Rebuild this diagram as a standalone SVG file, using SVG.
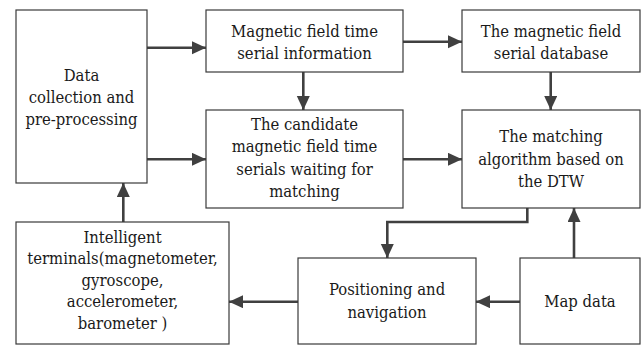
<svg xmlns="http://www.w3.org/2000/svg" width="644" height="345" viewBox="0 0 644 345">
<style>
.box{fill:#fff;stroke:#3a3a3a;stroke-width:1.2}
.c{fill:none;stroke:#404040;stroke-width:2.6}
.t{font-family:"DejaVu Serif Condensed","DejaVu Serif","Liberation Serif",serif;font-stretch:condensed;font-size:16.5px;fill:#1a1a1a;text-anchor:middle}
</style>
<defs>
<marker id="ah" markerUnits="userSpaceOnUse" markerWidth="16" markerHeight="14" refX="14" refY="6.5" orient="auto">
<path d="M0,0 L14,6.5 L0,13 Z" fill="#404040"/>
</marker>
</defs>
<rect width="644" height="345" fill="#fff"/>
<g id="connectors">
<line class="c" x1="147" y1="47.7" x2="206" y2="47.7" marker-end="url(#ah)"/>
<line class="c" x1="147" y1="159.3" x2="206" y2="159.3" marker-end="url(#ah)"/>
<line class="c" x1="303.3" y1="72" x2="303.3" y2="110" marker-end="url(#ah)"/>
<line class="c" x1="403" y1="41.7" x2="462" y2="41.7" marker-end="url(#ah)"/>
<line class="c" x1="550.7" y1="72" x2="550.7" y2="110" marker-end="url(#ah)"/>
<line class="c" x1="403" y1="159.3" x2="462" y2="159.3" marker-end="url(#ah)"/>
<polyline class="c" points="527.3,208 527.3,222 387.3,222 387.3,258" marker-end="url(#ah)"/>
<line class="c" x1="574" y1="258" x2="574" y2="208" marker-end="url(#ah)"/>
<line class="c" x1="520" y1="301.7" x2="476" y2="301.7" marker-end="url(#ah)"/>
<line class="c" x1="298" y1="301.7" x2="229" y2="301.7" marker-end="url(#ah)"/>
<line class="c" x1="123.3" y1="222" x2="123.3" y2="183" marker-end="url(#ah)"/>
</g>
<g id="data-collection">
<rect class="box" x="16" y="10" width="131" height="173"/>
<text class="t" x="81.5" y="80.5">Data</text>
<text class="t" x="81.5" y="102.5">collection and</text>
<text class="t" x="81.5" y="124.5">pre-processing</text>
</g>
<g id="time-serial-info">
<rect class="box" x="206" y="10" width="197" height="62"/>
<text class="t" x="304.5" y="37">Magnetic field time</text>
<text class="t" x="304.5" y="59">serial information</text>
</g>
<g id="serial-database">
<rect class="box" x="462" y="10" width="178" height="62"/>
<text class="t" x="551" y="37">The magnetic field</text>
<text class="t" x="551" y="59">serial database</text>
</g>
<g id="candidate">
<rect class="box" x="206" y="110" width="197" height="98"/>
<text class="t" x="304.5" y="130">The candidate</text>
<text class="t" x="304.5" y="152">magnetic field time</text>
<text class="t" x="304.5" y="174.5">serials waiting for</text>
<text class="t" x="304.5" y="196.5">matching</text>
</g>
<g id="matching-dtw">
<rect class="box" x="462" y="110" width="178" height="98"/>
<text class="t" x="551" y="142">The matching</text>
<text class="t" x="551" y="164.5">algorithm based on</text>
<text class="t" x="551" y="187">the DTW</text>
</g>
<g id="intelligent-terminals">
<rect class="box" x="16" y="222" width="213" height="122"/>
<text class="t" x="122.5" y="242.5">Intelligent</text>
<text class="t" x="122.5" y="264">terminals(magnetometer,</text>
<text class="t" x="122.5" y="285.7">gyroscope,</text>
<text class="t" x="122.5" y="307.3">accelerometer,</text>
<text class="t" x="122.5" y="329">barometer )</text>
</g>
<g id="positioning">
<rect class="box" x="298" y="258" width="178" height="86"/>
<text class="t" x="387" y="295">Positioning and</text>
<text class="t" x="387" y="318.3">navigation</text>
</g>
<g id="map-data">
<rect class="box" x="520" y="258" width="120" height="86"/>
<text class="t" x="580" y="307.3">Map data</text>
</g>
</svg>
